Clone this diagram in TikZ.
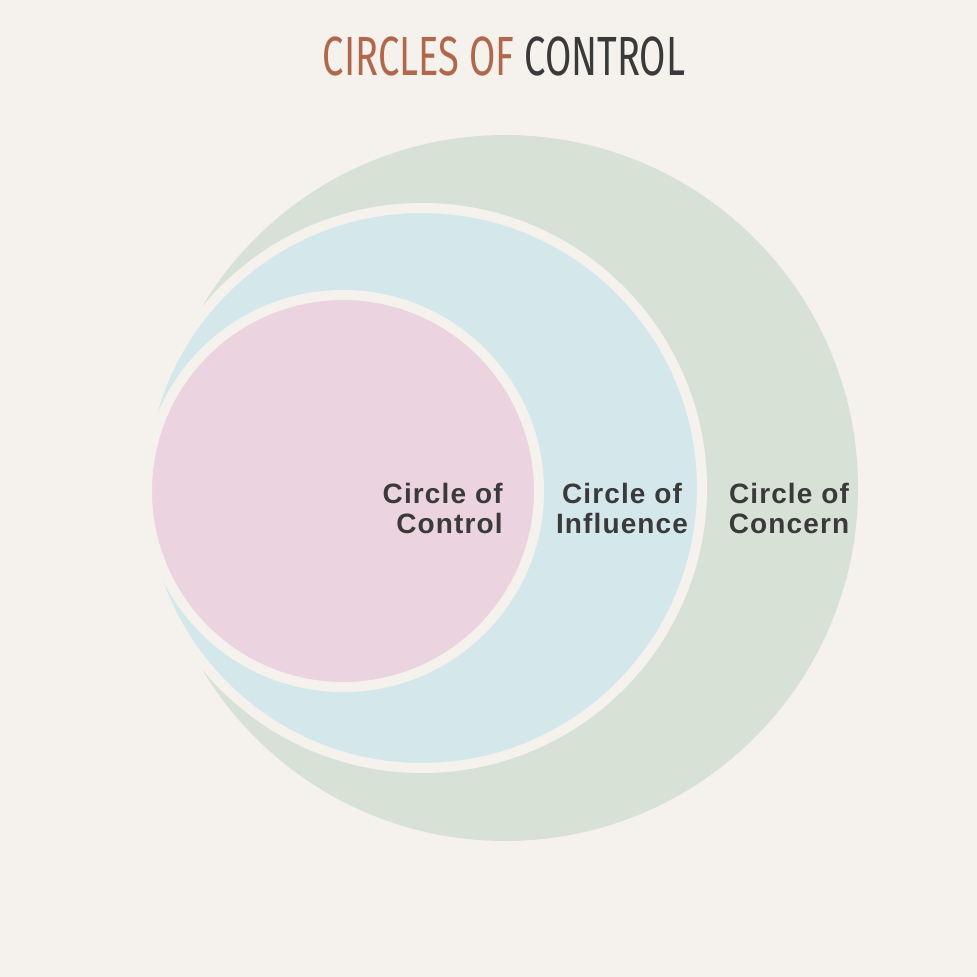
\documentclass[tikz,border=0pt]{standalone}
\usepackage{tikz}
\usepackage{xcolor}
\usepackage{fontspec}
\setmainfont{Liberation Sans}
\newfontfamily\titlefont[FakeStretch=0.69]{Fira Sans}
\newfontfamily\labelfont[LetterSpace=4]{Liberation Sans}
\definecolor{paper}{HTML}{F5F2EE}
\definecolor{concern}{HTML}{D8E1D6}
\definecolor{influence}{HTML}{D4E8EB}
\definecolor{control}{HTML}{EBD4E0}
\definecolor{rust}{HTML}{B0674C}
\definecolor{ink}{HTML}{3A3A3A}
\tikzset{
  ring/.style={circle, inner sep=0pt, outer sep=0pt, draw=paper, line width=5pt},
  label/.style={font=\labelfont\bfseries\fontsize{14}{14.8}\selectfont, text=ink, inner sep=0pt}
}

\begin{document}
\begin{tikzpicture}[x=0.5pt,y=-0.5pt]
\fill[paper] (0,0) rectangle (977,977);
\useasboundingbox (0,0) rectangle (977,977);
\node[anchor=base, text=rust, font=\titlefont\fontsize{27.6}{30}\selectfont, inner sep=0pt] (title) at (504,76)
  {CIRCLES OF \textcolor{ink}{CONTROL}};
\node[circle, inner sep=0pt, fill=concern, minimum size=353pt] (concern) at (505,488) {};
\node[ring, fill=influence, minimum size=280pt] (influence) at (422,488) {};
\node[ring, fill=control, minimum size=196pt] (control) at (343,491) {};
\node[label, align=right, anchor=base east] (lcontrol) at (503,533) {Circle of\\Control};
\node[label, align=center, anchor=base] (linfluence) at (622,533) {Circle of\\Influence};
\node[label, align=center, anchor=base] (lconcern) at (789,533) {Circle of\\Concern};
\end{tikzpicture}
\end{document}
